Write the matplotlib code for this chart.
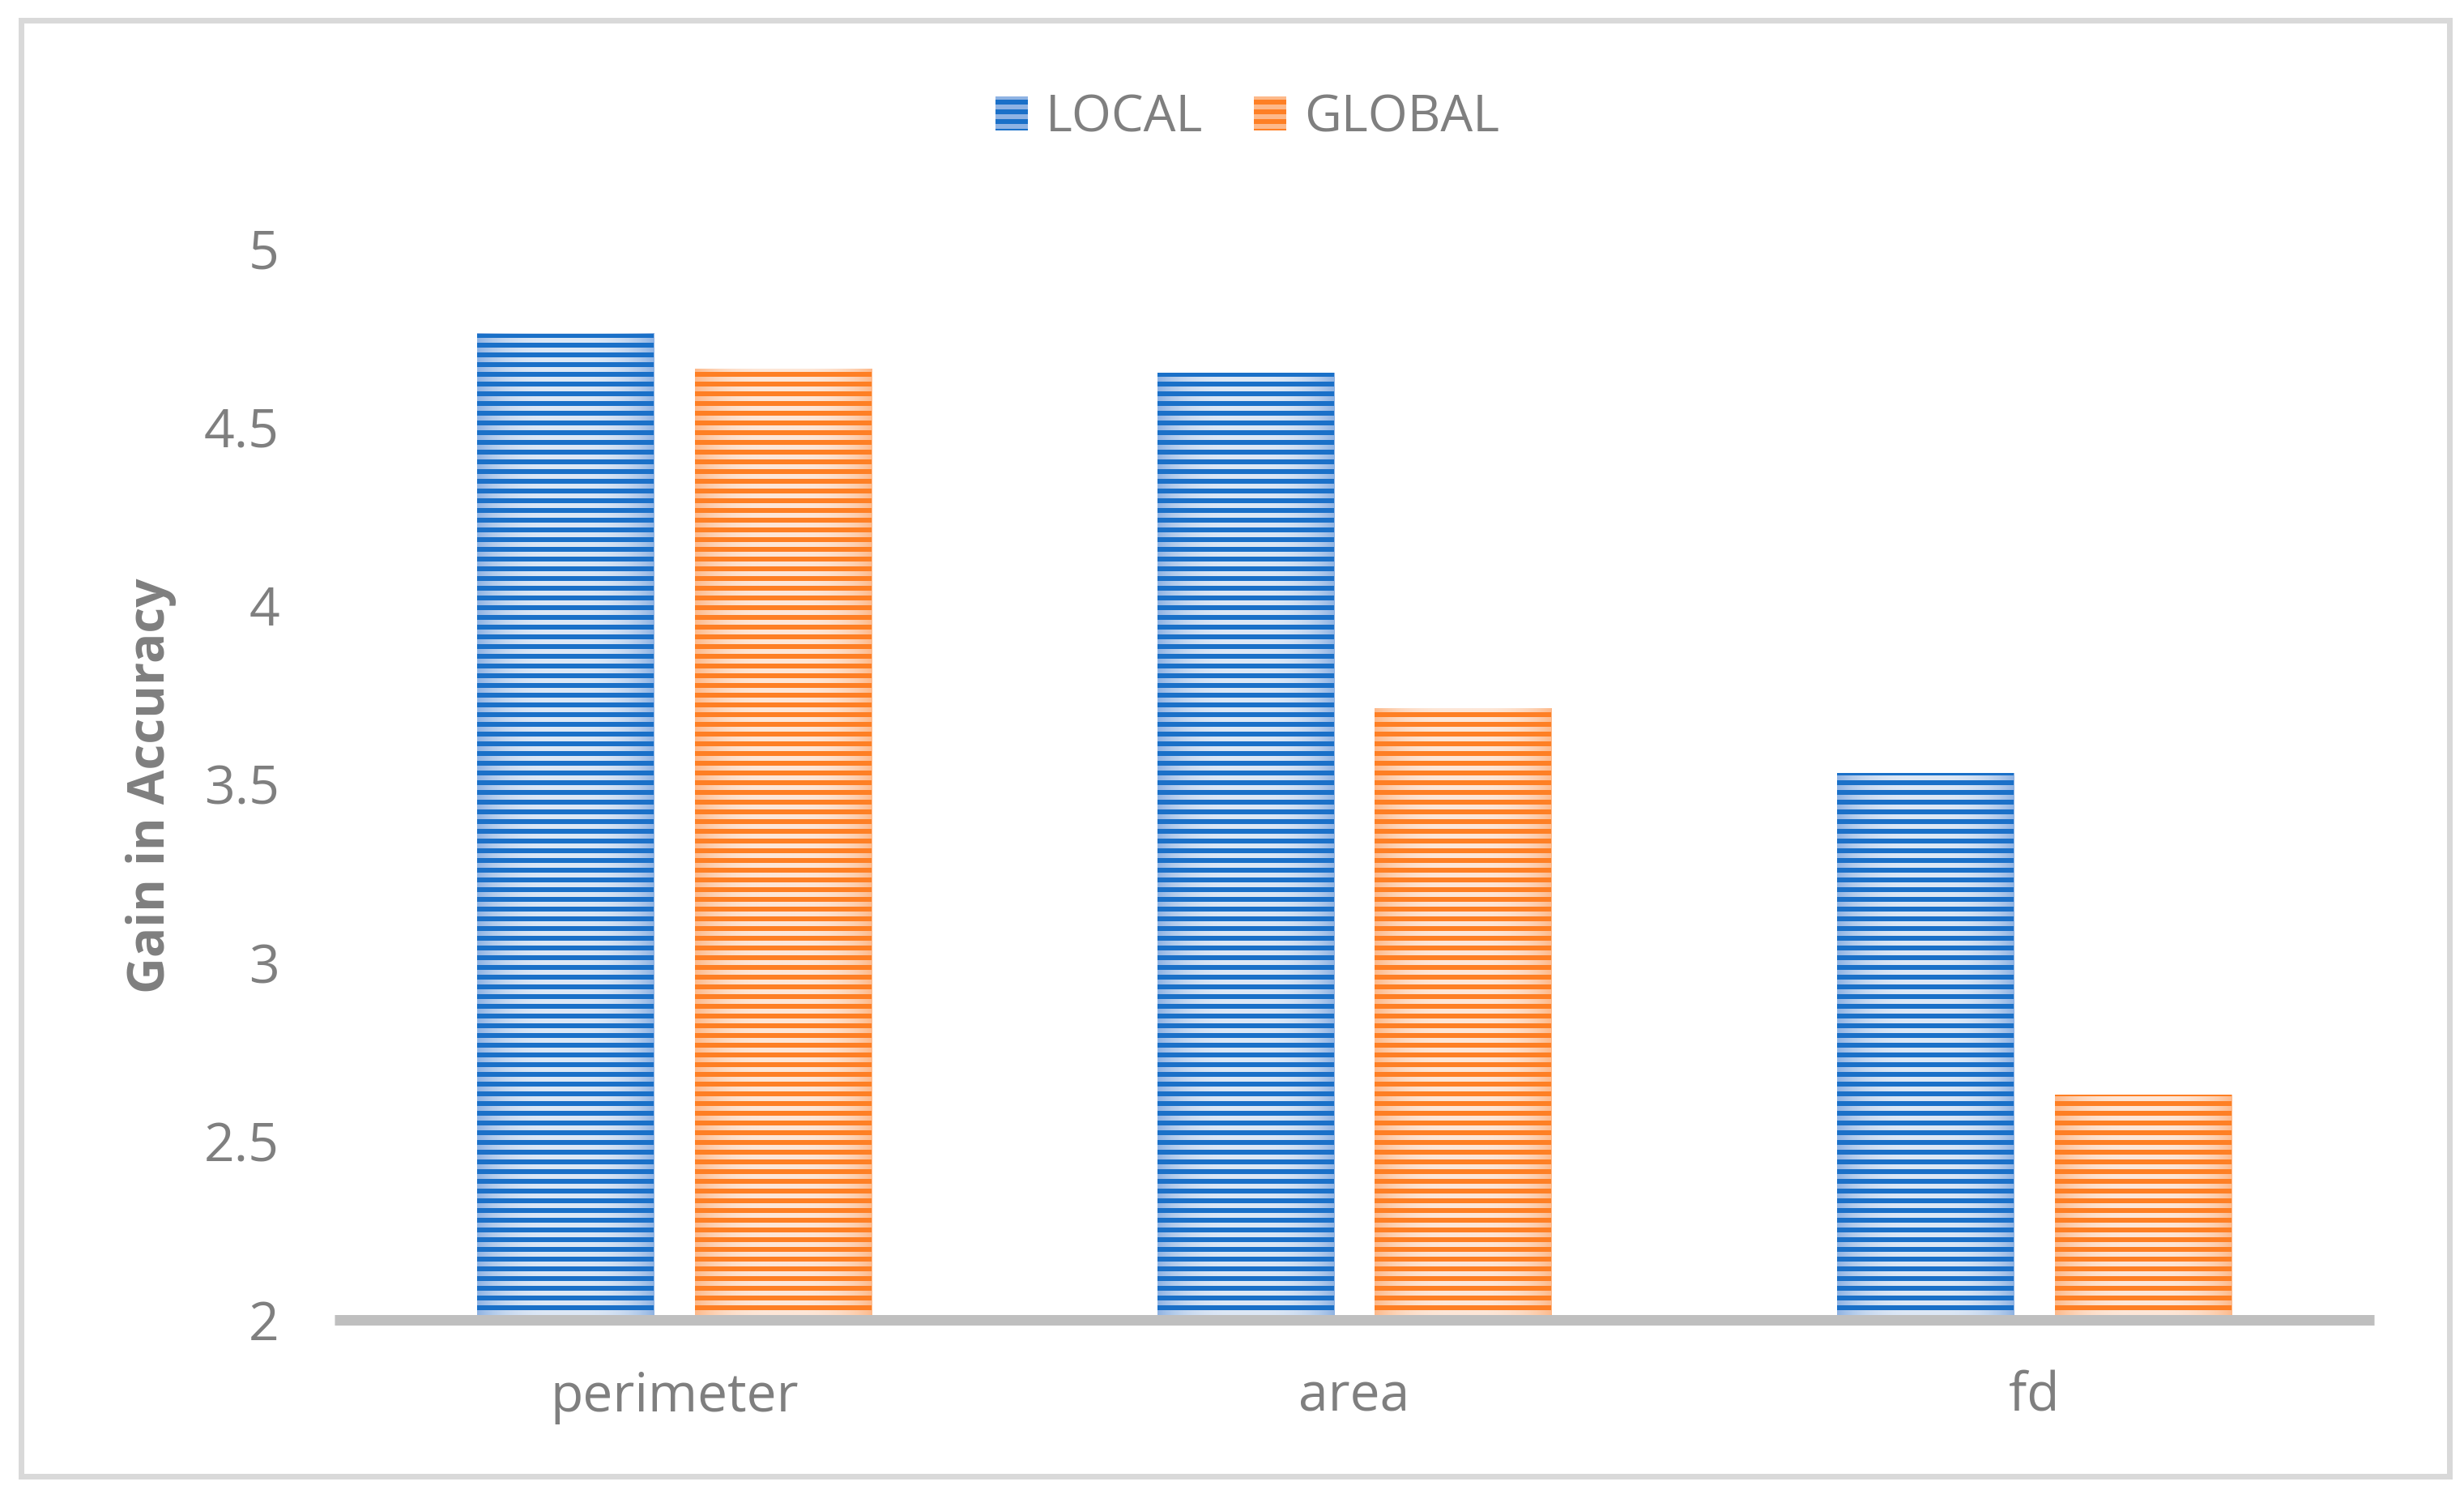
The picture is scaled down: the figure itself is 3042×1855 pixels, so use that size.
import numpy as np
import matplotlib
matplotlib.use("Agg")
import matplotlib.pyplot as plt
from matplotlib.patches import Rectangle
from matplotlib.colors import to_rgb

categories = ['perimeter', 'area', 'fd']
local_vals = [4.76, 4.65, 3.53]
global_vals = [4.66, 3.71, 2.63]
series_names = ['LOCAL', 'GLOBAL']
yticks = [2, 2.5, 3, 3.5, 4, 4.5, 5]

plt.rcParams['font.family'] = ['Open Sans', 'DejaVu Sans']
plt.rcParams['hatch.linewidth'] = 6
txt = '#7f7f7f'

# dpi 72 -> 1 pt == 1 px, hatch period 12 px
fig = plt.figure(figsize=(3042 / 72, 1855 / 72), dpi=72)
ax = fig.add_axes([413 / 3042, 226 / 1855, 2518 / 3042, 1323 / 1855])

# stripe colours: (dark stripe, light centre, light edge)
styles = [('#1a70c8', '#dde8f6', '#8fb3e3'),
          ('#fe7f24', '#fde7d8', '#fdb98a')]
offsets = [-0.16, 0.16]
width = 0.26
x = np.arange(len(categories))

def gradient(c_mid, c_edge, n=200):
    t = np.linspace(0, 1, n)
    w = 1 - np.abs(2 * t - 1) ** 3
    a, b = np.array(to_rgb(c_edge)), np.array(to_rgb(c_mid))
    return (a[None, :] * (1 - w[:, None]) + b[None, :] * w[:, None])[None, :, :]

handles = []
for vals, name, (dark, mid, edge), off in zip([local_vals, global_vals], series_names, styles, offsets):
    for xi, v in zip(x + off, vals):
        ax.imshow(gradient(mid, edge), extent=(xi - width / 2, xi + width / 2, 2, v),
                  aspect='auto', zorder=1, interpolation='bilinear')
    ax.bar(x + off, np.array(vals) - 2, width, bottom=2, fill=False, hatch='-',
           edgecolor=dark, linewidth=0, zorder=2)
    handles.append(Rectangle((0, 0), 1, 1, facecolor=edge, edgecolor=dark,
                             hatch='-', linewidth=0))

ax.set_xlim(-0.5, 2.5)
ax.set_ylim(2, 5)
ax.set_yticks(yticks)
ax.set_yticklabels(['{:g}'.format(t) for t in yticks])
ax.set_xticks(x)
ax.set_xticklabels(categories)
ax.tick_params(axis='y', length=0, pad=68, labelsize=66, labelcolor=txt)
ax.tick_params(axis='x', length=0, pad=63, labelsize=66, labelcolor=txt)
for s in ['top', 'right', 'left']:
    ax.spines[s].set_visible(False)
ax.spines['bottom'].set_color('#bfbfbf')
ax.spines['bottom'].set_linewidth(13)
ax.spines['bottom'].set_capstyle('butt')
ax.spines['bottom'].set_zorder(3)

ax.set_ylabel('Gain in Accuracy', fontsize=62, fontweight='bold', color=txt)
ax.yaxis.set_label_coords(218 / 3042, (1855 - 970) / 1855, transform=fig.transFigure)

leg = ax.legend(handles, series_names, loc='center',
                bbox_to_anchor=(1540 / 3042, (1855 - 146) / 1855),
                bbox_transform=fig.transFigure, ncol=2, frameon=False, fontsize=63,
                handlelength=0.63, handleheight=0.63, handletextpad=0.35,
                columnspacing=1.0)
for t in leg.get_texts():
    t.set_color(txt)

fig.patches.append(Rectangle((26 / 3042, 33 / 1855), 2997.5 / 3042, 1797 / 1855,
                             transform=fig.transFigure, fill=False,
                             edgecolor='#d9d9d9', linewidth=7))

fig.savefig('out.png', dpi=72, facecolor='white')
